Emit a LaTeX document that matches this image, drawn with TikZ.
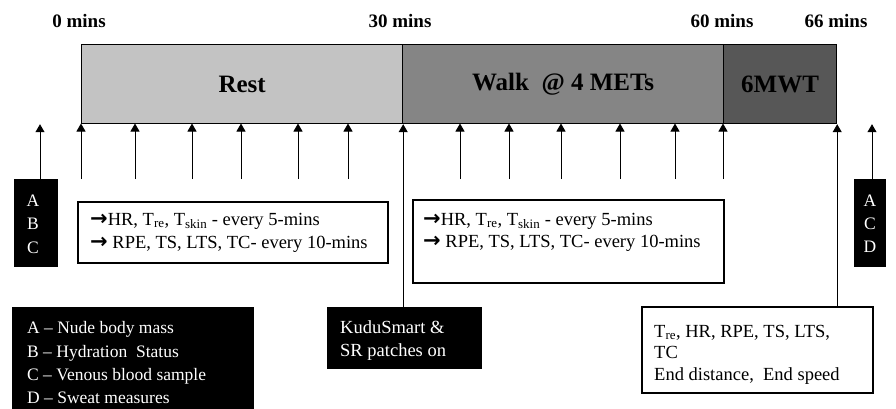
\documentclass[tikz,border=0pt]{standalone}
\usepackage{fontspec}
\setmainfont{Liberation Serif}
\newfontfamily\arrfont{DejaVu Sans}
\usetikzlibrary{arrows.meta}
\definecolor{restgray}{HTML}{C3C3C3}
\definecolor{walkgray}{HTML}{858585}
\definecolor{mwtgray}{HTML}{575757}
\newcommand{\rarr}{{\arrfont\bfseries\fontsize{21}{21}\selectfont →}}
\begin{document}
\begin{tikzpicture}[x=1pt,y=-1pt,
  lbl/.style={font=\bfseries\fontsize{19}{22}\selectfont, inner sep=0pt, anchor=base},
  phase/.style={draw=black, line width=1.2pt, minimum height=79pt, inner sep=0pt, anchor=north west,
    font=\bfseries\fontsize{25}{28}\selectfont},
  arr/.style={-{Triangle[width=9pt,length=8pt]}, line width=1pt},
  blkbox/.style={fill=black, draw=black, inner sep=0pt, anchor=north west},
  wbox/.style={fill=white, draw=black, line width=1.6pt, inner sep=0pt, anchor=north west},
  txt/.style={font=\fontsize{18.5}{21}\selectfont, inner sep=0pt, anchor=base west},
  ltxt/.style={font=\fontsize{17.5}{21}\selectfont, inner sep=0pt, anchor=base west, text=white},
  ktxt/.style={font=\fontsize{18.5}{21}\selectfont, inner sep=0pt, anchor=base west, text=white},
  ltr/.style={font=\fontsize{17.5}{21}\selectfont, inner sep=0pt, anchor=base, text=white}]
\useasboundingbox (0,0) rectangle (896,409);

% time labels
\node[lbl] (t0) at (79,28) {0 mins};
\node[lbl] (t30) at (400,28) {30 mins};
\node[lbl] (t60) at (722,28) {60 mins};
\node[lbl] (t66) at (836,28) {66 mins};

% phases
\node[phase, fill=restgray, minimum width=321pt] (rest) at (81,44) {Rest};
\node[phase, fill=walkgray, minimum width=321pt] (walk) at (402,44) {Walk\ \ @ 4 METs};
\node[phase, fill=mwtgray, minimum width=113pt] (mwt) at (723,44) {6MWT};

% small measurement arrows
\foreach \x in {81,135,192,241,298,348,460,509,561,620,675,723}
  \draw[arr] (\x,179) -- (\x,123.5);

% ABC box
\node[blkbox, minimum width=43pt, minimum height=87pt] (abc) at (14,179) {};
\node[ltr] (abcA) at (33,206) {A};
\node[ltr] (abcB) at (33,229) {B};
\node[ltr] (abcC) at (33,253) {C};
\coordinate (abctop) at (40,179);
\draw[arr] (abctop) -- (abctop |- rest.south);

% ACD box
\node[blkbox, minimum width=31pt, minimum height=87pt] (acd) at (854,179) {};
\node[ltr] (acdA) at (870,206) {A};
\node[ltr] (acdC) at (870,229) {C};
\node[ltr] (acdD) at (870,252) {D};
\coordinate (acdtop) at (872,179);
\draw[arr] (acdtop) -- (acdtop |- rest.south);

% HR boxes
\node[wbox, minimum width=310pt, minimum height=61pt] (hr1) at (77,201) {};
\node[txt] (hr1a) at (90,225) {\rarr HR, T\textsubscript{re}, T\textsubscript{skin} - every 5-mins};
\node[txt] (hr1b) at (90,248) {\rarr\ RPE, TS, LTS, TC- every 10-mins};

\node[wbox, minimum width=311pt, minimum height=83pt] (hr2) at (412,199) {};
\node[txt] (hr2a) at (423,225) {\rarr HR, T\textsubscript{re}, T\textsubscript{skin} - every 5-mins};
\node[txt] (hr2b) at (423,247) {\rarr\ RPE, TS, LTS, TC- every 10-mins};

% legend
\node[blkbox, minimum width=241pt, minimum height=110pt] (legend) at (12,307) {};
\node[ltxt] (la) at (27,333) {A -- Nude body mass};
\node[ltxt] (lb) at (27,357) {B -- Hydration\ \ Status};
\node[ltxt] (lc) at (27,380) {C -- Venous blood sample};
\node[ltxt] (ld) at (27,403) {D -- Sweat measures};

% KuduSmart
\node[blkbox, minimum width=154pt, minimum height=61pt] (kudu) at (327,307) {};
\node[ktxt] (ka) at (340,333) {KuduSmart \&};
\node[ktxt] (kb) at (340,356) {SR patches on};
\draw[arr] (kudu.north -| rest.south east) -- (rest.south east);

% end box
\node[wbox, minimum width=231pt, minimum height=86pt] (endbox) at (641,306) {};
\node[txt] (ea) at (654,337) {T\textsubscript{re}, HR, RPE, TS, LTS,};
\node[txt] (eb) at (654,358) {TC};
\node[txt] (ec) at (654,380) {End distance,\ \ End speed};
\draw[arr] (endbox.north -| mwt.south east) -- (mwt.south east);
\end{tikzpicture}
\end{document}
